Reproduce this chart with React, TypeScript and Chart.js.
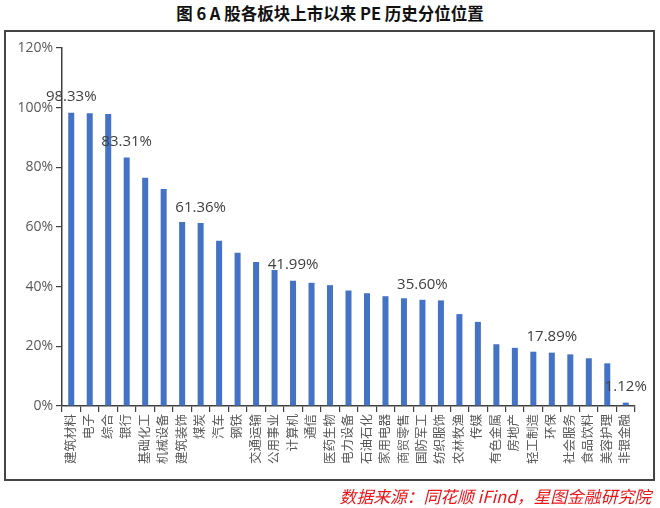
import { useEffect, useRef } from "react";
import { Chart, registerables, Plugin } from "chart.js";

Chart.register(...registerables);

const sectors = [
  "建筑材料", "电子", "综合", "银行", "基础化工", "机械设备", "建筑装饰", "煤炭",
  "汽车", "钢铁", "交通运输", "公用事业", "计算机", "通信", "医药生物", "电力设备",
  "石油石化", "家用电器", "商贸零售", "国防军工", "纺织服饰", "农林牧渔", "传媒",
  "有色金属", "房地产", "轻工制造", "环保", "社会服务", "食品饮料", "美容护理", "非银金融",
];

// PE 历史分位 (%)
const percentiles = [
  98.33, 98.1, 97.9, 83.31, 76.5, 72.7, 61.7, 61.36,
  55.4, 51.4, 48.3, 45.6, 41.99, 41.3, 40.5, 38.7,
  37.8, 36.8, 36.1, 35.6, 35.4, 30.8, 28.2,
  20.7, 19.5, 18.2, 17.89, 17.3, 16.0, 14.3, 1.12,
];

// bars that carry a value label
const labelledBars = [0, 3, 7, 12, 19, 26, 30];

const yTicks = [0, 20, 40, 60, 80, 100, 120];

const AXIS_COLOR = "#404040";
const TEXT_COLOR = "#595959";
const FONT = "'Open Sans', 'Noto Sans CJK SC', sans-serif";

const valueLabels: Plugin<"bar"> = {
  id: "valueLabels",
  afterDatasetsDraw(chart) {
    const ctx = chart.ctx;
    const meta = chart.getDatasetMeta(0);
    ctx.save();
    ctx.font = `15px ${FONT}`;
    ctx.fillStyle = "#404040";
    ctx.textAlign = "center";
    ctx.textBaseline = "bottom";
    labelledBars.forEach((i) => {
      const bar = meta.data[i];
      if (!bar) return;
      ctx.fillText(`${percentiles[i].toFixed(2)}%`, bar.x, bar.y - 8);
    });
    ctx.restore();
  },
};

const PercentileChart = () => {
  const canvasRef = useRef<HTMLCanvasElement>(null);

  useEffect(() => {
    if (!canvasRef.current) return;
    const chart = new Chart(canvasRef.current, {
      type: "bar",
      data: {
        labels: sectors,
        datasets: [
          {
            data: percentiles,
            backgroundColor: "#4472C4",
            barPercentage: 0.65,
            categoryPercentage: 0.5,
          },
        ],
      },
      options: {
        responsive: false,
        animation: false,
        devicePixelRatio: 1,
        layout: { padding: { left: 4, right: 25, top: 48, bottom: 32 } },
        plugins: {
          legend: { display: false },
          tooltip: { enabled: false },
        },
        scales: {
          x: {
            afterFit: (scale) => {
              scale.height = 70;
            },
            border: { color: AXIS_COLOR, width: 1.5 },
            grid: {
              drawOnChartArea: false,
              color: AXIS_COLOR,
              lineWidth: 1.2,
              tickLength: 6,
            },
            ticks: {
              autoSkip: false,
              maxRotation: 90,
              minRotation: 90,
              padding: 2,
              color: TEXT_COLOR,
              font: { family: FONT, size: 12.5 },
            },
          },
          y: {
            min: yTicks[0],
            max: yTicks[yTicks.length - 1],
            afterFit: (scale) => {
              scale.width = 58;
            },
            afterBuildTicks: (scale) => {
              scale.ticks = yTicks.map((v) => ({ value: v }));
            },
            border: { color: AXIS_COLOR, width: 1.5 },
            grid: {
              drawOnChartArea: false,
              color: AXIS_COLOR,
              lineWidth: 1.2,
              tickLength: 6,
            },
            ticks: {
              padding: 3,
              color: TEXT_COLOR,
              font: { family: FONT, size: 14 },
              callback: (v) => `${v}%`,
            },
          },
        },
      },
      plugins: [valueLabels],
    });
    return () => chart.destroy();
  }, []);

  return (
    <canvas
      ref={canvasRef}
      width={660}
      height={508}
      style={{ position: "absolute", left: 0, top: 0, width: 660, height: 508 }}
    />
  );
};

export default function App() {
  return (
    <div
      style={{
        position: "absolute",
        left: 0,
        top: 0,
        width: 660,
        height: 508,
        background: "#fff",
        overflow: "hidden",
      }}
    >
      <div
        style={{
          position: "absolute",
          left: 0,
          top: 2,
          width: 660,
          textAlign: "center",
          fontFamily: "'Noto Sans CJK SC', sans-serif",
          fontWeight: "bold",
          fontSize: 16.5,
          lineHeight: "22px",
          color: "#111",
        }}
      >
        图 6 A 股各板块上市以来 PE 历史分位位置
      </div>
      <div
        style={{
          position: "absolute",
          left: 4,
          top: 30,
          width: 651,
          height: 451,
          border: "2px solid #444",
          boxSizing: "border-box",
        }}
      />
      <PercentileChart />
      <div
        style={{
          position: "absolute",
          right: 9,
          top: 485,
          fontFamily: "'Noto Sans CJK SC', sans-serif",
          fontStyle: "italic",
          fontSize: 16.8,
          lineHeight: "22px",
          color: "#e8161a",
          whiteSpace: "nowrap",
        }}
      >
        数据来源：同花顺 iFind，星图金融研究院
      </div>
    </div>
  );
}
